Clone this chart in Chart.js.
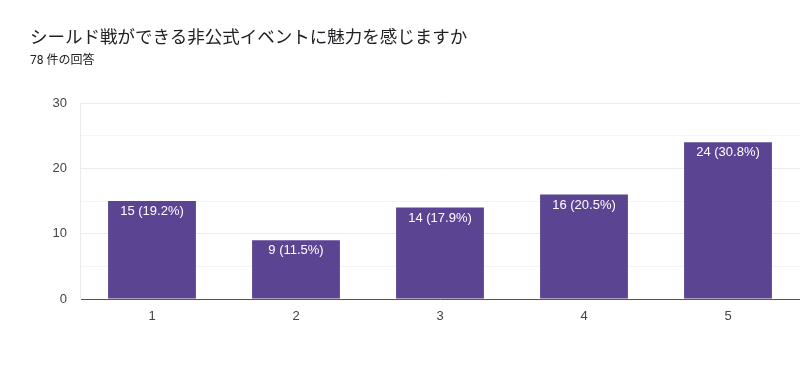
<!DOCTYPE html>
<html><head><meta charset="utf-8">
<script src="https://cdn.jsdelivr.net/npm/chart.js@4"></script>
<style>
html,body{margin:0;padding:0;background:#fff;}
#wrap{position:relative;width:800px;height:381px;overflow:hidden;}
#title{position:absolute;left:30px;top:27px;font:17.5px Roboto,"Noto Sans CJK JP",sans-serif;color:#202124;white-space:nowrap;line-height:20px;}
#sub{position:absolute;left:30px;top:52px;font:12px Roboto,"Noto Sans CJK JP",sans-serif;color:#202124;white-space:nowrap;line-height:16px;}
canvas{position:absolute;left:0;top:0;}
</style></head><body>
<div id="wrap">
<canvas id="c" width="800" height="381"></canvas>
<div id="title">シールド戦ができる非公式イベントに魅力を感じますか</div>
<div id="sub">78 件の回答</div>
</div>
<script>
const categories = ['1','2','3','4','5'];
const counts = [15, 9, 14, 16, 24];
const percentLabels = ['19.2%','11.5%','17.9%','20.5%','30.8%'];
const yTicks = [0, 10, 20, 30];

const labelPlugin = {
  id: 'barLabels',
  afterDatasetsDraw(chart) {
    const ctx = chart.ctx;
    const meta = chart.getDatasetMeta(0);
    ctx.save();
    ctx.fillStyle = '#ffffff';
    ctx.font = '13px "Liberation Sans", Arial, sans-serif';
    ctx.textAlign = 'center';
    ctx.textBaseline = 'top';
    meta.data.forEach((bar, i) => {
      ctx.fillText(counts[i] + ' (' + percentLabels[i] + ')', bar.x, bar.y + 4);
    });
    ctx.restore();
  }
};

new Chart(document.getElementById('c'), {
  type: 'bar',
  data: {
    labels: categories,
    datasets: [{
      data: counts,
      backgroundColor: '#5b4593',
      borderWidth: 0,
      categoryPercentage: 1,
      barPercentage: 0.61
    }]
  },
  options: {
    responsive: false,
    animation: false,
    layout: { padding: { top: 103, left: 0, right: 0, bottom: 0 } },
    plugins: { legend: { display: false }, tooltip: { enabled: false } },
    scales: {
      x: {
        grid: { display: false },
        border: { display: true, color: '#555', width: 1 },
        ticks: { color: '#444', font: { size: 13, family: '"Liberation Sans", Arial' }, padding: 2 },
        afterFit(s) { s.height = 82; }
      },
      y: {
        min: 0, max: 30,
        afterBuildTicks(s) { s.ticks = [0,5,10,15,20,25,30].map(v => ({ value: v })); },
        grid: {
          color: ctx => (ctx.tick && yTicks.includes(ctx.tick.value)) ? '#ebebeb' : '#f5f5f5',
          drawTicks: false
        },
        border: { display: true, color: '#ebebeb' },
        ticks: {
          color: '#444', font: { size: 13, family: '"Liberation Sans", Arial' }, padding: 13,
          callback: v => yTicks.includes(v) ? String(v) : ''
        },
        afterFit(s) { s.width = 80; }
      }
    }
  },
  plugins: [labelPlugin]
});
</script>
</body></html>
